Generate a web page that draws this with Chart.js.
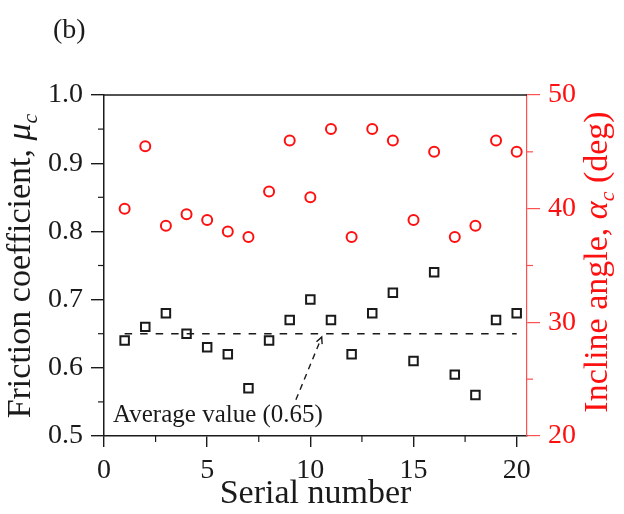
<!DOCTYPE html>
<html>
<head>
<meta charset="utf-8">
<script src="https://cdn.jsdelivr.net/npm/chart.js@4.4.1/dist/chart.umd.min.js"></script>
<style>
  html, body { margin: 0; padding: 0; background: #fff; }
  #wrap { width: 624px; height: 514px; }
</style>
</head>
<body>
<div id="wrap"><canvas id="chart" width="624" height="514"></canvas></div>
<script>
// measured friction / incline per test run
const serials = [1, 2, 3, 4, 5, 6, 7, 8, 9, 10, 11, 12, 13, 14, 15, 16, 17, 18, 19, 20];
const friction = [0.64, 0.66, 0.68, 0.65, 0.63, 0.62, 0.57, 0.64, 0.67, 0.70,
                  0.67, 0.62, 0.68, 0.71, 0.61, 0.74, 0.59, 0.56, 0.67, 0.68];
const incline = [40, 45.5, 38.5, 39.5, 39, 38, 37.5, 41.5, 46, 41,
                 47, 37.5, 47, 46, 39, 45, 37.5, 38.5, 46, 45];
const averageFriction = 0.65;
const averageSpan = [1, 20];

// axis ticks
const xTicks = [0, 5, 10, 15, 20];
const xMinor = [2.5, 7.5, 12.5, 17.5];
const yTicks = [0.5, 0.6, 0.7, 0.8, 0.9, 1.0];
const yMinor = [0.55, 0.65, 0.75, 0.85, 0.95];
const y2Ticks = [20, 30, 40, 50];
const y2Minor = [25, 35, 45];

// annotation: label anchor and arrow in data units
const noteLabel = { x: 0.44, y: 0.521, text: 'Average value (0.65)' };
const arrowFrom = { x: 9.3, y: 0.553 };
const arrowTo = { x: 10.55, y: 0.645 };

const SERIF = "'Liberation Serif', 'Times New Roman', serif";
const BLACK = '#1a1a1a';
const RED = '#ff1010';
const RED_AXIS = '#ff5050';

function richText(ctx, parts, size, color) {
  // parts: [text, kind] where kind is '' | 'i' | 'sub'
  const fontFor = k => k === 'sub' ? `italic ${Math.round(size * 0.66)}px ${SERIF}`
                   : k === 'i' ? `italic ${size}px ${SERIF}` : `${size}px ${SERIF}`;
  let total = 0;
  parts.forEach(([t, k]) => { ctx.font = fontFor(k); total += ctx.measureText(t).width; });
  let cx = -total / 2;
  ctx.fillStyle = color;
  ctx.textAlign = 'left';
  ctx.textBaseline = 'alphabetic';
  parts.forEach(([t, k]) => {
    ctx.font = fontFor(k);
    ctx.fillText(t, cx, k === 'sub' ? size * 0.22 : 0);
    cx += ctx.measureText(t).width;
  });
}

const decorations = {
  id: 'decorations',
  afterDraw(chart) {
    const { ctx, chartArea: a, scales: { x, y, y2 } } = chart;
    ctx.save();

    // top frame
    ctx.strokeStyle = BLACK;
    ctx.lineWidth = 1.5;
    ctx.beginPath();
    ctx.moveTo(a.left, a.top);
    ctx.lineTo(a.right, a.top);
    ctx.stroke();

    // minor ticks
    ctx.lineWidth = 1.2;
    xMinor.forEach(v => {
      const px = x.getPixelForValue(v);
      ctx.beginPath(); ctx.moveTo(px, a.bottom); ctx.lineTo(px, a.bottom + 6); ctx.stroke();
    });
    yMinor.forEach(v => {
      const py = y.getPixelForValue(v);
      ctx.beginPath(); ctx.moveTo(a.left, py); ctx.lineTo(a.left - 6, py); ctx.stroke();
    });
    ctx.strokeStyle = RED_AXIS;
    y2Minor.forEach(v => {
      const py = y2.getPixelForValue(v);
      ctx.beginPath(); ctx.moveTo(a.right, py); ctx.lineTo(a.right + 6, py); ctx.stroke();
    });

    // dashed arrow to the average line
    const x0 = x.getPixelForValue(arrowFrom.x), y0 = y.getPixelForValue(arrowFrom.y);
    const x1 = x.getPixelForValue(arrowTo.x), y1 = y.getPixelForValue(arrowTo.y);
    ctx.strokeStyle = BLACK;
    ctx.lineWidth = 1.4;
    ctx.setLineDash([6, 5]);
    ctx.beginPath(); ctx.moveTo(x0, y0); ctx.lineTo(x1, y1); ctx.stroke();
    ctx.setLineDash([]);
    const ang = Math.atan2(y1 - y0, x1 - x0);
    ctx.beginPath();
    ctx.moveTo(x1 - 7 * Math.cos(ang - 0.45), y1 - 7 * Math.sin(ang - 0.45));
    ctx.lineTo(x1, y1);
    ctx.lineTo(x1 - 7 * Math.cos(ang + 0.45), y1 - 7 * Math.sin(ang + 0.45));
    ctx.stroke();

    // annotation label
    ctx.fillStyle = BLACK;
    ctx.font = `25px ${SERIF}`;
    ctx.textAlign = 'left';
    ctx.textBaseline = 'alphabetic';
    ctx.fillText(noteLabel.text, x.getPixelForValue(noteLabel.x), y.getPixelForValue(noteLabel.y));

    // panel tag
    ctx.font = `28px ${SERIF}`;
    ctx.fillText('(b)', 53, 38);

    // axis titles
    ctx.save();
    ctx.translate((a.left + a.right) / 2, 503);
    richText(ctx, [['Serial number', '']], 34, BLACK);
    ctx.restore();

    ctx.save();
    ctx.translate(30, 266);
    ctx.rotate(-Math.PI / 2);
    richText(ctx, [['Friction coefficient, ', ''], ['\u03BC', 'i'], ['c', 'sub']], 34, BLACK);
    ctx.restore();

    ctx.save();
    ctx.translate(607, 262);
    ctx.rotate(-Math.PI / 2);
    richText(ctx, [['Incline angle, ', ''], ['\u03B1', 'i'], ['c', 'sub'], [' (deg)', '']], 34, RED);
    ctx.restore();

    ctx.restore();
  }
};

const fixedTicks = list => scale => { scale.ticks = list.map(v => ({ value: v })); };

new Chart(document.getElementById('chart'), {
  type: 'scatter',
  data: {
    datasets: [
      {
        label: 'Friction coefficient',
        data: serials.map((s, i) => ({ x: s, y: friction[i] })),
        yAxisID: 'y',
        pointStyle: 'rect',
        pointRadius: 6,
        borderColor: BLACK,
        backgroundColor: 'rgba(255,255,255,0)',
        borderWidth: 2
      },
      {
        label: 'Incline angle',
        data: serials.map((s, i) => ({ x: s, y: incline[i] })),
        yAxisID: 'y2',
        pointStyle: 'circle',
        pointRadius: 5,
        borderColor: RED,
        backgroundColor: 'rgba(255,255,255,0)',
        borderWidth: 2
      },
      {
        type: 'line',
        label: 'Average',
        data: averageSpan.map(s => ({ x: s, y: averageFriction })),
        yAxisID: 'y',
        borderColor: BLACK,
        borderWidth: 1.4,
        borderDash: [7.5, 8],
        pointRadius: 0,
        fill: false
      }
    ]
  },
  options: {
    responsive: false,
    animation: false,
    layout: { padding: { top: 95, left: 0, right: 0, bottom: 0 } },
    plugins: { legend: { display: false }, tooltip: { enabled: false } },
    scales: {
      x: {
        type: 'linear',
        position: 'bottom',
        min: 0,
        max: 20.5,
        afterBuildTicks: fixedTicks(xTicks),
        afterFit: s => { s.height = 78; },
        ticks: { color: BLACK, font: { family: SERIF, size: 28 }, padding: 7, maxRotation: 0 },
        grid: { drawOnChartArea: false, tickLength: 11, color: BLACK, lineWidth: 1.4 },
        border: { color: BLACK, width: 1.5 }
      },
      y: {
        position: 'left',
        min: 0.5,
        max: 1.0,
        afterBuildTicks: fixedTicks(yTicks),
        afterFit: s => { s.width = 104; },
        ticks: { color: BLACK, font: { family: SERIF, size: 28 }, padding: 8, callback: v => v.toFixed(1) },
        grid: { drawOnChartArea: false, tickLength: 13, color: BLACK, lineWidth: 1.4 },
        border: { color: BLACK, width: 1.5 }
      },
      y2: {
        position: 'right',
        min: 20,
        max: 50,
        afterBuildTicks: fixedTicks(y2Ticks),
        afterFit: s => { s.width = 97; },
        ticks: { color: RED, font: { family: SERIF, size: 28 }, padding: 8 },
        grid: { drawOnChartArea: false, tickLength: 13, color: RED_AXIS, lineWidth: 1.2 },
        border: { color: RED_AXIS, width: 1.2 }
      }
    }
  },
  plugins: [decorations]
});
</script>
</body>
</html>
